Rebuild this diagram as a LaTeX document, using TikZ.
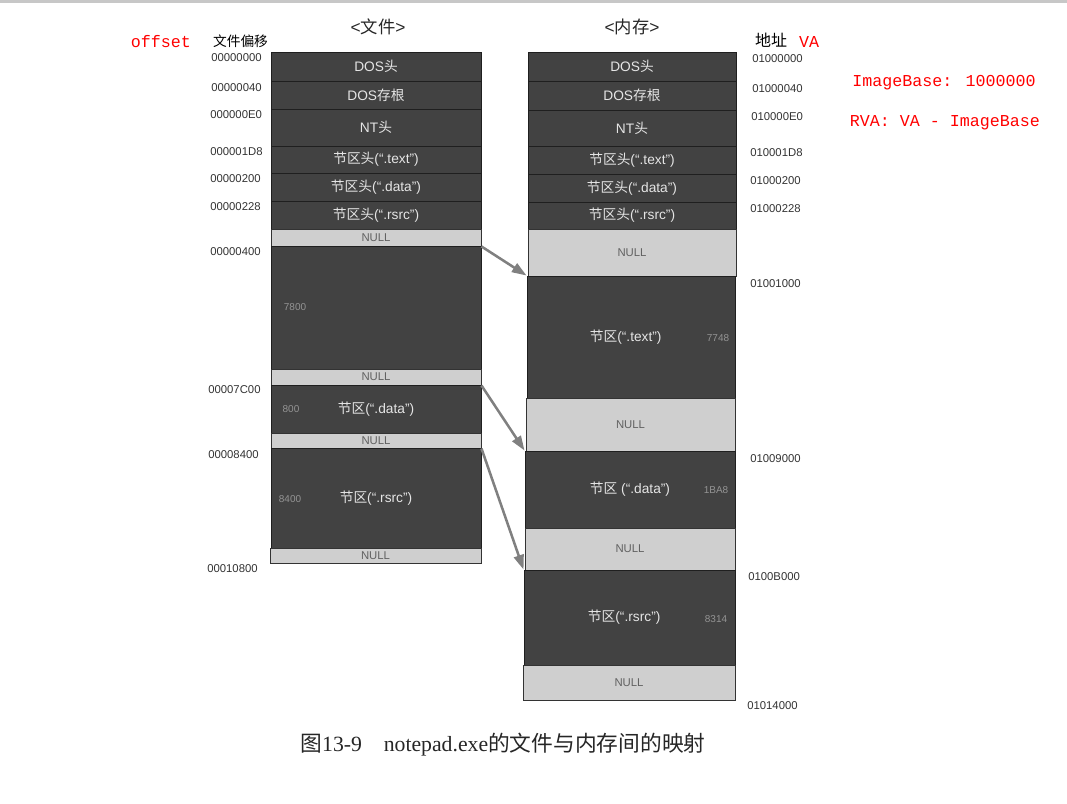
\documentclass[tikz,border=0pt]{standalone}
\usepackage{fontspec}
\setmainfont{Liberation Sans}
\newfontfamily\cjk{Noto Sans CJK SC}
\newfontfamily\redmono{Liberation Mono}
\newfontfamily\capserif{Liberation Serif}
\usetikzlibrary{fit,arrows.meta}
\newcommand\zh[1]{{\cjk #1}}
% \blk{style}{name}{x1}{y1}{x2}{y2}{text}
\newcommand\blk[7]{%
  \node[#1, fit={(#3,#4)(#5,#6)}] (#2) {};
  \node[#1 text] at (#2.center) {#7};}
\begin{document}
\begin{tikzpicture}[x=0.75pt,y=-0.75pt,
  darkbox/.style={draw=black!88, line width=0.7pt, fill=black!74, inner sep=0pt},
  darkbox text/.style={inner sep=0pt, text=white!90!black, font=\fontsize{10.3}{12}\selectfont},
  nullbox/.style={draw=black!80, line width=0.7pt, fill=black!19, inner sep=0pt},
  nullbox text/.style={inner sep=0pt, text=black!62, font=\fontsize{8.5}{10}\selectfont},
  addr/.style={anchor=west, inner sep=0pt, font=\fontsize{8.5}{10}\selectfont, text=black!80},
  sizelbl/.style={inner sep=0pt, font=\fontsize{7.5}{9}\selectfont, text=black!42},
  redtxt/.style={inner sep=0pt, text=red, font=\redmono\fontsize{12.5}{14}\selectfont},
  head/.style={inner sep=0pt, text=black!85, font=\fontsize{13}{15}\selectfont},
  maparrow/.style={draw=black!50, line width=1.9pt, -{Triangle[length=11pt,width=7.5pt]}}
]
\useasboundingbox (0,0) rectangle (1067,803);
\fill[black!22] (0,0) rectangle (1067,2.5);
% headings
\node[head] (fileh) at (378,27) {<\zh{文件}>};
\node[head] (memh) at (632,27) {<\zh{内存}>};
\node[inner sep=0pt, font=\fontsize{10.3}{12}\selectfont] (offh) at (240.5,41) {\zh{文件偏移}};
\node[inner sep=0pt, font=\fontsize{12}{14}\selectfont] (addrh) at (771,40) {\zh{地址}};
\node[redtxt] (offset) at (161,42) {offset};
\node[redtxt] (va) at (809,42) {VA};
\node[redtxt] (ib) at (944,83) {ImageBase: 1000000};
\node[redtxt] (rva) at (945,123) {RVA: VA - ImageBase};
% file column
\blk{darkbox}{f1}{271}{52}{481}{81}{DOS\zh{头}}
\blk{darkbox}{f2}{271}{81}{481}{109}{DOS\zh{存根}}
\blk{darkbox}{f3}{271}{109}{481}{146}{NT\zh{头}}
\blk{darkbox}{f4}{271}{146}{481}{173}{\zh{节区头}(“.text”)}
\blk{darkbox}{f5}{271}{173}{481}{201}{\zh{节区头}(“.data”)}
\blk{darkbox}{f6}{271}{201}{481}{229}{\zh{节区头}(“.rsrc”)}
\blk{nullbox}{f7}{271}{229}{481}{246}{NULL}
\blk{darkbox}{f8}{271}{246}{481}{369}{}
\blk{nullbox}{f9}{271}{369}{481}{385}{NULL}
\blk{darkbox}{f10}{271}{385}{481}{433}{\zh{节区}(“.data”)}
\blk{nullbox}{f11}{271}{433}{481}{448}{NULL}
\blk{darkbox}{f12}{271}{448}{481}{548}{\zh{节区}(“.rsrc”)}
\blk{nullbox}{f13}{270}{548}{481}{563}{NULL}
\node[sizelbl] (s1) at (295,307) {7800};
\node[sizelbl] (s2) at (291,409) {800};
\node[sizelbl] (s3) at (290,499) {8400};
% memory column
\blk{darkbox}{m1}{528}{52}{736}{81}{DOS\zh{头}}
\blk{darkbox}{m2}{528}{81}{736}{110}{DOS\zh{存根}}
\blk{darkbox}{m3}{528}{110}{736}{146}{NT\zh{头}}
\blk{darkbox}{m4}{528}{146}{736}{174}{\zh{节区头}(“.text”)}
\blk{darkbox}{m5}{528}{174}{736}{202}{\zh{节区头}(“.data”)}
\blk{darkbox}{m6}{528}{202}{736}{229}{\zh{节区头}(“.rsrc”)}
\blk{nullbox}{m7}{528}{229}{736}{276}{NULL}
\blk{darkbox}{m8}{527}{276}{735}{398}{\hspace*{-8pt}\zh{节区}(“.text”)}
\blk{nullbox}{m9}{526}{398}{735}{451}{NULL}
\blk{darkbox}{m10}{525}{451}{735}{528}{\zh{节区} (“.data”)}
\blk{nullbox}{m11}{525}{528}{735}{570}{NULL}
\blk{darkbox}{m12}{524}{570}{735}{665}{\hspace*{-8pt}\zh{节区}(“.rsrc”)}
\blk{nullbox}{m13}{523}{665}{735}{700}{NULL}
\node[sizelbl] (s4) at (718,338) {7748};
\node[sizelbl] (s5) at (716,490) {1BA8};
\node[sizelbl] (s6) at (716,619) {8314};
% file offsets
\node[addr] (o1) at (211,58) {00000000};
\node[addr] (o2) at (211,88) {00000040};
\node[addr] (o3) at (210,115) {000000E0};
\node[addr] (o4) at (210,152) {000001D8};
\node[addr] (o5) at (210,179) {00000200};
\node[addr] (o6) at (210,207) {00000228};
\node[addr] (o7) at (210,252) {00000400};
\node[addr] (o8) at (208,390) {00007C00};
\node[addr] (o9) at (208,455) {00008400};
\node[addr] (o10) at (207,569) {00010800};
% addresses
\node[addr] (a1) at (752,59) {01000000};
\node[addr] (a2) at (752,89) {01000040};
\node[addr] (a3) at (751,117) {010000E0};
\node[addr] (a4) at (750,153) {010001D8};
\node[addr] (a5) at (750,181) {01000200};
\node[addr] (a6) at (750,209) {01000228};
\node[addr] (a7) at (750,284) {01001000};
\node[addr] (a8) at (750,459) {01009000};
\node[addr] (a9) at (748,577) {0100B000};
\node[addr] (a10) at (747,706) {01014000};
% mapping arrows
\draw[maparrow] (f7.south east) -- (m8.north west);
\draw[maparrow] (f9.south east) -- (m10.north west);
\draw[maparrow] (f11.south east) -- (m12.north west);
% caption
\node[inner sep=0pt, text=black!85, font=\capserif\fontsize{16.3}{19}\selectfont] (cap) at (503,745) {\zh{图}13-9\hspace{1em}notepad.exe\zh{的文件与内存间的映射}};
\end{tikzpicture}
\end{document}
